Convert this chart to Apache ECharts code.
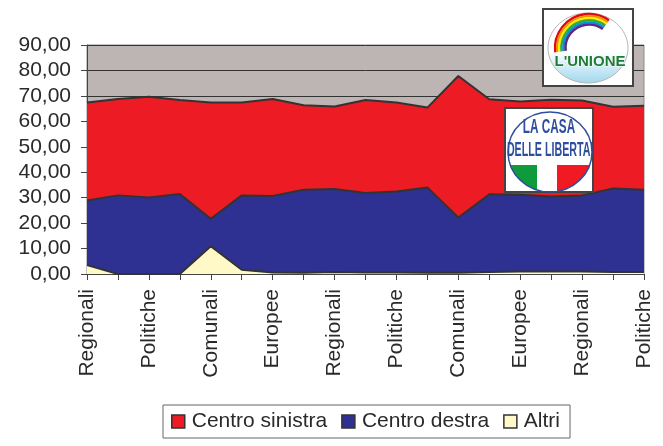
<!DOCTYPE html>
<html>
<head>
<meta charset="utf-8">
<script src="https://cdn.jsdelivr.net/npm/echarts@6/dist/echarts.min.js"></script>
<style>
  html, body { margin: 0; padding: 0; background: #fff; }
  #chart { width: 663px; height: 446px; }
</style>
</head>
<body>
<div id="chart"></div>
<script>
// categorie (una etichetta ogni due viene mostrata)
const categories = ['Regionali', 'Provinciali', 'Politiche', 'Provinciali', 'Comunali', 'Provinciali',
  'Europee', 'Provinciali', 'Regionali', 'Provinciali', 'Politiche', 'Provinciali', 'Comunali',
  'Provinciali', 'Europee', 'Provinciali', 'Regionali', 'Provinciali', 'Politiche'];

const altri = [3.5, 0, 0, 0, 10.9, 1.7, 0.6, 0.5, 0.8, 0.6, 0.6, 0.5, 0.5, 0.8, 1.0, 1.0, 1.0, 0.8, 0.8];
const centroDestra = [25.4, 30.9, 30.1, 31.4, 10.8, 29.2, 30.1, 32.6, 32.6, 31.2, 31.8, 33.5, 21.7,
  30.5, 30.1, 29.5, 29.9, 32.8, 32.3];
const centroSinistra = [38.5, 37.9, 39.6, 37.0, 45.7, 36.5, 38.1, 33.2, 32.4, 36.6, 35.0, 31.4, 55.6,
  37.4, 36.7, 38.0, 37.3, 32.1, 33.0];

const yMin = 0, yMax = 90, yStep = 10;

const font = '"Liberation Sans", Arial, sans-serif';
const narrow = '"Liberation Sans Narrow", "Liberation Sans", sans-serif';
const textColor = '#2a2a2a';

// parte inferiore di un'ellisse, per il tricolore del logo
function ellipseStripe(cx, cy, rx, ry, x0, x1, yTop) {
  const top = [], bottom = [];
  const n = 12;
  for (let i = 0; i <= n; i++) {
    const x = x0 + (x1 - x0) * i / n;
    const t = Math.max(0, 1 - Math.pow((x - cx) / rx, 2));
    const yb = Math.max(yTop, cy + ry * Math.sqrt(t));
    top.push([x, yTop]);
    bottom.unshift([x, yb]);
  }
  return top.concat(bottom);
}

function series(name, data, color) {
  return {
    name: name,
    type: 'line',
    stack: 'tot',
    data: data,
    showSymbol: false,
    symbol: 'none',
    lineStyle: { color: '#333', width: 2 },
    itemStyle: { color: color, borderColor: '#333', borderWidth: 1.5 },
    areaStyle: { color: color, opacity: 1 }
  };
}

const rainbow = ['#e30613', '#f39200', '#ffed00', '#3aaa35', '#0095db', '#5b2a86'];

// loghi
const logoUnione = [
  { type: 'rect', z: 100, shape: { x: 543, y: 9, width: 90, height: 77 },
    style: { fill: '#fff', stroke: '#444', lineWidth: 2 } },
  { type: 'ellipse', z: 101, shape: { cx: 588, cy: 48, rx: 40, ry: 35 },
    style: {
      fill: new echarts.graphic.LinearGradient(0, 0, 0, 1, [
        { offset: 0, color: '#ffffff' },
        { offset: 0.55, color: '#ffffff' },
        { offset: 1, color: '#9fd7ee' }
      ]),
      stroke: '#b5b5b5', lineWidth: 1
    } }
].concat(rainbow.map((c, i) => ({
  type: 'arc', z: 102,
  shape: { cx: 589, cy: 48, r: 34 - i * 2.1, startAngle: Math.PI * 0.96, endAngle: Math.PI * 1.7, clockwise: true },
  style: { stroke: c, lineWidth: 2.4, fill: null }
}))).concat([
  { type: 'text', z: 103, x: 590, y: 62,
    style: { text: "L'UNIONE", fill: '#1d7d33', font: 'bold 15px ' + font,
      align: 'center', verticalAlign: 'middle', stroke: '#fff', lineWidth: 1 } }
]);

const logoCdl = [
  { type: 'rect', z: 100, shape: { x: 505, y: 108, width: 88, height: 84 },
    style: { fill: '#fff', stroke: '#444', lineWidth: 2 } },
  { type: 'polygon', z: 101, shape: { points: ellipseStripe(550, 152, 42, 40, 508, 537, 165) },
    style: { fill: '#0f9a3c' } },
  { type: 'polygon', z: 101, shape: { points: ellipseStripe(550, 152, 42, 40, 557, 593, 165) },
    style: { fill: '#f11a22' } },
  { type: 'ellipse', z: 102, shape: { cx: 550, cy: 152, rx: 42, ry: 40 },
    style: { fill: 'rgba(0,0,0,0)', stroke: '#2e4f9e', lineWidth: 1.5 } },
  { type: 'text', z: 103, x: 549, y: 127, scaleX: 0.56,
    style: { text: 'LA CASA', fill: '#2e4f9e', font: 'bold 21px ' + narrow,
      align: 'center', verticalAlign: 'middle' } },
  { type: 'text', z: 103, x: 550, y: 150, scaleX: 0.51,
    style: { text: "DELLE LIBERTA'", fill: '#2e4f9e', font: 'bold 21px ' + narrow,
      align: 'center', verticalAlign: 'middle' } }
];

let myCharts = echarts.init(document.getElementById('chart'));
const option = {
  animation: false,
  textStyle: { fontFamily: font },
  grid: {
    left: 87,
    right: 19,
    top: 45,
    bottom: 172,
    show: true,
    backgroundColor: '#bdb5b3',
    borderColor: '#8c8c8c',
    borderWidth: 1
  },
  legend: {
    data: ['Centro sinistra', 'Centro destra', 'Altri'],
    left: 163,
    top: 405,
    icon: 'rect',
    itemWidth: 13,
    itemHeight: 13,
    itemGap: 14,
    padding: [6, 10, 6, 8],
    borderColor: '#666',
    borderWidth: 1,
    itemStyle: { borderColor: '#333', borderWidth: 1.5 },
    textStyle: { color: textColor, fontSize: 21, fontFamily: font, padding: [0, 0, 0, 2] }
  },
  xAxis: {
    type: 'category',
    data: categories,
    boundaryGap: false,
    axisLine: { lineStyle: { color: '#444', width: 1 } },
    axisTick: { show: true, interval: 0, length: 6, lineStyle: { color: '#444' } },
    axisLabel: {
      interval: 1,
      rotate: 90,
      margin: 15,
      color: textColor,
      fontSize: 21,
      fontFamily: font
    }
  },
  yAxis: {
    type: 'value',
    min: yMin,
    max: yMax,
    interval: yStep,
    axisLine: { show: true, lineStyle: { color: '#444', width: 1 } },
    axisTick: { show: true, length: 6, lineStyle: { color: '#444' } },
    axisLabel: {
      margin: 16,
      color: textColor,
      fontSize: 21,
      fontFamily: font,
      formatter: v => v.toFixed(2).replace('.', ',')
    },
    splitLine: { show: true, lineStyle: { color: '#333', width: 1 } }
  },
  series: [
    series('Altri', altri, '#fff9c8'),
    series('Centro destra', centroDestra, '#2e3192'),
    series('Centro sinistra', centroSinistra, '#ed1c24')
  ],
  graphic: { elements: logoUnione.concat(logoCdl) }
};
myCharts.setOption(option);
</script>
</body>
</html>
